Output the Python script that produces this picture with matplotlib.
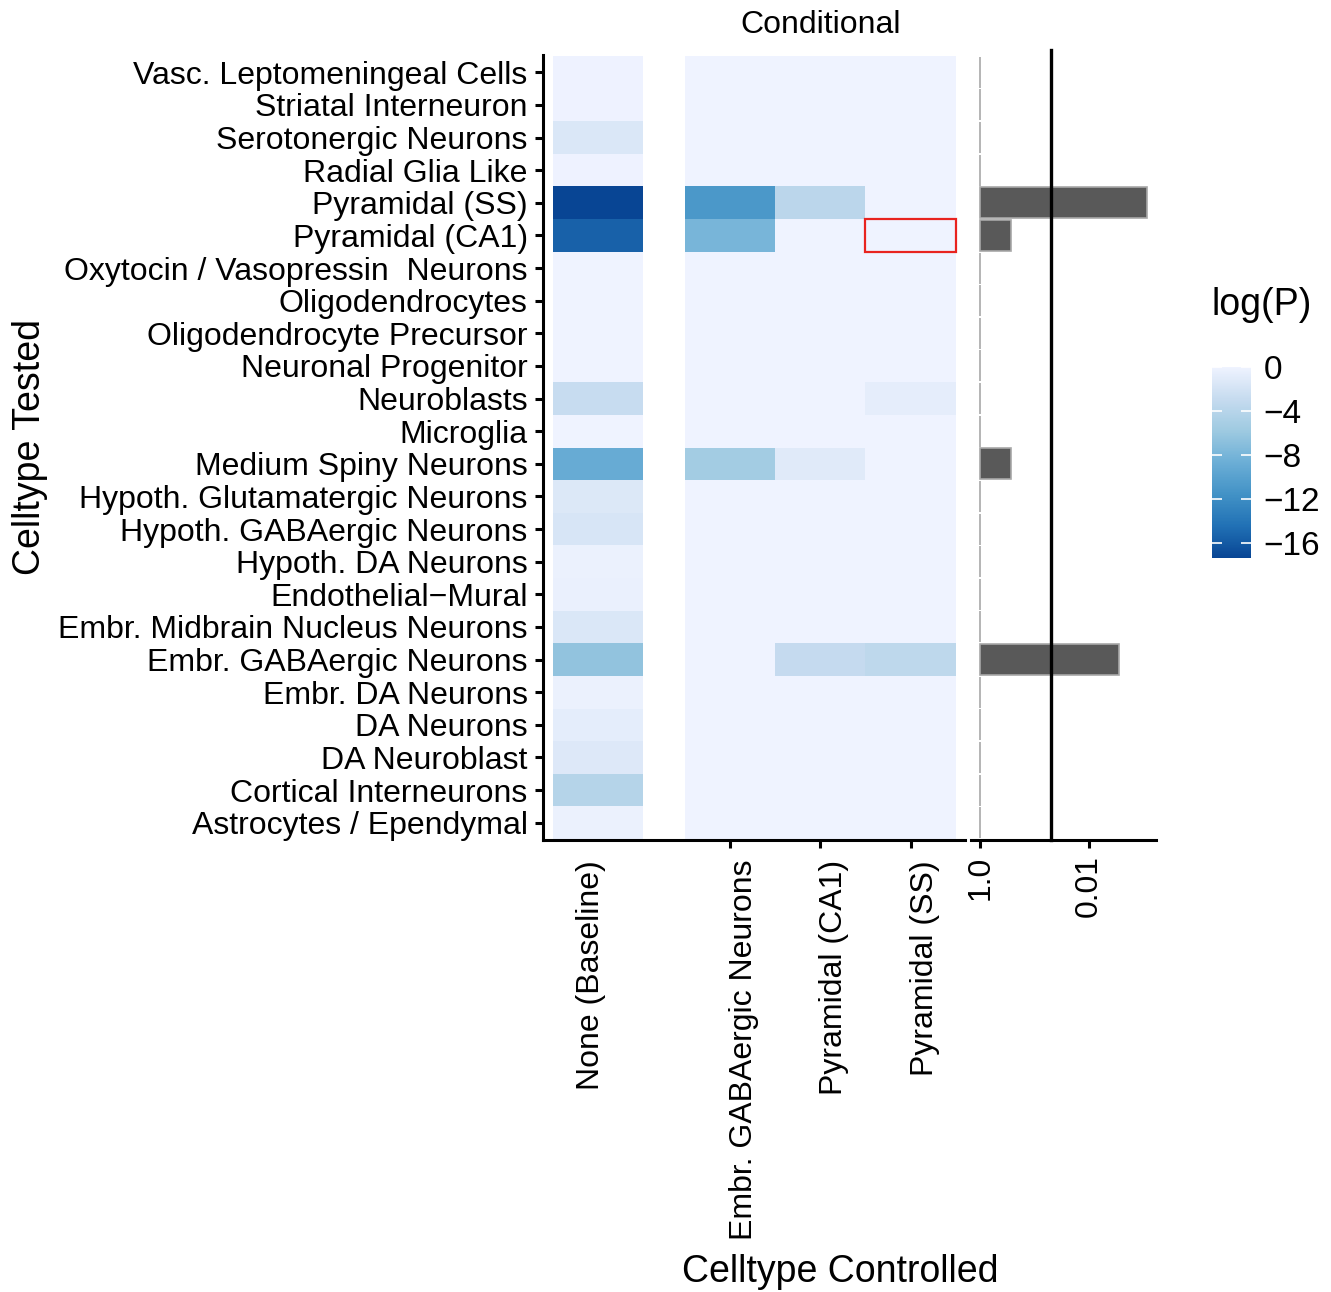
import numpy as np
import matplotlib
matplotlib.use("Agg")
import matplotlib.pyplot as plt
from matplotlib.colors import LinearSegmentedColormap, Normalize
from matplotlib.patches import Rectangle
from matplotlib.cm import ScalarMappable
import matplotlib.transforms as mtransforms

plt.rcParams['font.family'] = ['Liberation Sans', 'DejaVu Sans']

# rows, top to bottom
celltypes = [
    "Vasc. Leptomeningeal Cells", "Striatal Interneuron", "Serotonergic Neurons",
    "Radial Glia Like", "Pyramidal (SS)", "Pyramidal (CA1)",
    "Oxytocin / Vasopressin  Neurons", "Oligodendrocytes",
    "Oligodendrocyte Precursor", "Neuronal Progenitor", "Neuroblasts", "Microglia",
    "Medium Spiny Neurons", "Hypoth. Glutamatergic Neurons",
    "Hypoth. GABAergic Neurons", "Hypoth. DA Neurons", "Endothelial\u2212Mural",
    "Embr. Midbrain Nucleus Neurons", "Embr. GABAergic Neurons", "Embr. DA Neurons",
    "DA Neurons", "DA Neuroblast", "Cortical Interneurons", "Astrocytes / Ependymal",
]

# log(P) without conditioning
baseline = [-0.1, -0.1, -1.5, -0.1, -17.4, -15.5, -0.05, -0.05, -0.05, -0.05,
            -2.8, -0.05, -9.0, -1.4, -1.7, -0.3, -0.4, -1.5, -6.5, -0.3,
            -0.8, -1.3, -4.2, -0.3]

# log(P) after conditioning on each controlled celltype
cond_labels = ["Embr. GABAergic Neurons", "Pyramidal (CA1)", "Pyramidal (SS)"]
cond_embr_gaba = [-0.05, -0.05, -0.05, -0.05, -11.0, -8.0, -0.05, -0.05, -0.05, -0.05,
                  -0.05, -0.05, -5.5, -0.05, -0.05, -0.05, -0.05, -0.05, -0.05, -0.05,
                  -0.05, -0.05, -0.05, -0.05]
cond_pyr_ca1 = [-0.05, -0.05, -0.05, -0.05, -3.7, -0.05, -0.05, -0.05, -0.05, -0.05,
                -0.05, -0.05, -1.1, -0.05, -0.05, -0.05, -0.05, -0.05, -3.0, -0.05,
                -0.05, -0.05, -0.05, -0.05]
cond_pyr_ss = [-0.05, -0.05, -0.05, -0.05, -0.05, -0.05, -0.05, -0.05, -0.05, -0.05,
               -0.7, -0.05, -0.05, -0.05, -0.05, -0.05, -0.05, -0.05, -3.5, -0.05,
               -0.05, -0.05, -0.05, -0.05]

# P value summarised per tested celltype (right-hand bars)
bar_p = [1.0, 1.0, 1.0, 1.0, 0.00087, 0.27, 1.0, 1.0, 1.0, 1.0, 1.0, 1.0,
         0.27, 1.0, 1.0, 1.0, 1.0, 1.0, 0.0028, 1.0, 1.0, 1.0, 1.0, 1.0]
p_threshold = 0.05

blues = ["#084594", "#2171b5", "#4292c6", "#6baed6", "#9ecae1", "#c6dbef", "#eff3ff"]
cmap = LinearSegmentedColormap.from_list("blues7", blues)
vmin, vmax = -17.4, 0.0
norm = Normalize(vmin=vmin, vmax=vmax)

FS = 23
W, H = 1331, 1292
fig = plt.figure(figsize=(W / 100, H / 100), dpi=100)


def frac(x0, y0, x1, y1):
    return [x0 / W, 1 - y1 / H, (x1 - x0) / W, (y1 - y0) / H]


def shift(dx, dy=0):
    return mtransforms.ScaledTranslation(dx / 100, dy / 100, fig.dpi_scale_trans)


n = len(celltypes)
ylim = (n - 0.5 + 0.03, -0.5 - 0.03)

# ---- heatmap ----
ax = fig.add_axes(frac(543, 55, 965, 840))
base_x = 0.11
cond_x = 1.57
yedges = np.arange(n + 1) - 0.5
ax.pcolormesh([base_x, base_x + 1], yedges, np.array(baseline)[:, None],
              cmap=cmap, norm=norm)
cond = np.column_stack([cond_embr_gaba, cond_pyr_ca1, cond_pyr_ss])
ax.pcolormesh(cond_x + np.arange(4), yedges, cond, cmap=cmap, norm=norm)

# highlighted cell
ri = celltypes.index("Pyramidal (CA1)")
ci = cond_labels.index("Pyramidal (SS)")
ax.add_patch(Rectangle((cond_x + ci, ri - 0.5), 1, 1, fill=False,
                       edgecolor="#e8231f", lw=1.6, zorder=5))

ax.set_xlim(0, 4.672)
ax.set_ylim(*ylim)
ax.set_yticks(np.arange(n))
ax.set_yticklabels(celltypes, fontsize=FS)

# x ticks only under the conditional columns; labels drawn by hand
xcent = [base_x + 0.5] + list(cond_x + 0.5 + np.arange(3))
ax.set_xticks(xcent[1:])
ax.set_xticklabels([])
xtrans = ax.get_xaxis_transform()
for i, lab in enumerate(["None (Baseline)"] + cond_labels):
    dx = -7 if i == 0 else 14
    ax.text(xcent[i], 0, lab, rotation=90, ha="center", va="top", fontsize=FS,
            transform=xtrans + shift(dx, -20))

for s in ["top", "right"]:
    ax.spines[s].set_visible(False)
for s in ["left", "bottom"]:
    ax.spines[s].set_linewidth(2.2)
ax.tick_params(axis="both", length=6, width=2.2, color="black", pad=5)
fig.text((543 + 90.33 * (cond_x + 1.5)) / W, 1 - 25 / H, "Conditional",
         ha="center", va="center", fontsize=FS)

# ---- bar panel ----
bx = fig.add_axes(frac(971, 55, 1156, 840))
neglog = -np.log10(np.array(bar_p))
bx.barh(np.arange(n), neglog, height=0.95, color="#595959",
        edgecolor="#a8a8a8", lw=1.2)
bx.axvline(-np.log10(p_threshold), color="black", lw=2.4, ymax=1.006, clip_on=False)
bx.set_ylim(*ylim)
bx.set_xlim(-0.17, 3.23)
bx.set_xticks([0, 2])
bx.set_xticklabels(["1.0", "0.01"], rotation=90, fontsize=FS)
bx.set_yticks([])
for s in ["top", "right", "left"]:
    bx.spines[s].set_visible(False)
bx.spines["bottom"].set_linewidth(2.2)
bx.tick_params(axis="x", length=6, width=2.2, pad=5)

# ---- colour bar ----
cax = fig.add_axes(frac(1212, 367, 1251, 558))
cb = fig.colorbar(ScalarMappable(norm=norm, cmap=cmap), cax=cax)
cb.outline.set_visible(False)
cb.set_ticks([0, -4, -8, -12, -16])
cb.set_ticklabels(["0", "\u22124", "\u22128", "\u221212", "\u221216"])
cax.yaxis.set_ticks_position("both")
cax.tick_params(axis="y", direction="in", color="white", length=7, width=1.2,
                labelsize=24, labelleft=False, labelright=True, pad=9)
fig.text(1212 / W, 1 - 305 / H, "log(P)", ha="left", va="center", fontsize=27)

# axis titles
fig.text(30 / W, 1 - 447 / H, "Celltype Tested", rotation=90, ha="center",
         va="center", fontsize=27)
fig.text(840 / W, 1 - 1272 / H, "Celltype Controlled", ha="center", va="center",
         fontsize=27)

fig.savefig("out.png", dpi=100)
